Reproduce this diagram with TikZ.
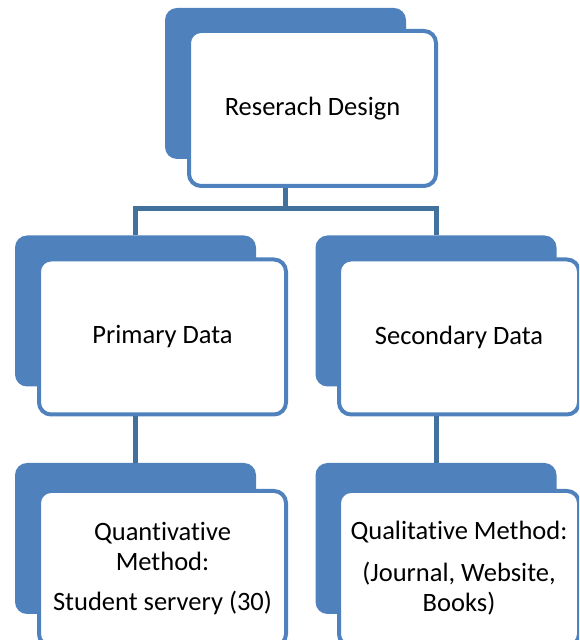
\documentclass[tikz,border=0pt]{standalone}
\usepackage{fontspec}
\setmainfont{Carlito}[Ligatures=NoCommon]
\usepackage{tikz}
\usepackage{xcolor}
\usetikzlibrary{positioning,calc}

\definecolor{officeblue}{HTML}{4F81BD}
\definecolor{linkblue}{HTML}{41719C}

\begin{document}
\begin{tikzpicture}[
    x=1pt, y=1pt,
    back/.style={rectangle, rounded corners=12pt, fill=officeblue, minimum width=241pt, minimum height=151pt},
    box/.style={rectangle, rounded corners=12pt, draw=officeblue, line width=4pt, fill=white, minimum width=247pt, minimum height=155pt, align=center, font=\fontsize{26.5}{30}\selectfont},
    link/.style={draw=linkblue, line width=5pt}
]
\useasboundingbox (0,0) rectangle (579,640);
\clip (0,0) rectangle (579,640);

% Research Design
\node[back] (designbg) at (285.5,556.5) {};
\node[box] (design) at (312.5,531.5) {Reserach Design};

% Primary / Secondary
\node[back] (primarybg) at (135.5,329) {};
\node[box] (primary) at (162.5,303) {Primary Data};
\node[back] (secondarybg) at (436,329) {};
\node[box, minimum width=240pt] (secondary) at (459,303) {Secondary Data};

% Methods
\node[back] (quantbg) at (135.5,101.5) {};
\node[box] (quant) at (162.5,71.5) {Quantivative\\ Method:\\[10pt] Student servery (30)};
\node[back] (qualbg) at (436,101.5) {};
\node[box, minimum width=240pt] (qual) at (459,71.5) {Qualitative Method:\\[12pt] (Journal, Website,\\ Books)};

% connectors
\draw[link] (designbg |- design.south) -- ++(0,-21) -| (primarybg.north);
\draw[link] (designbg |- design.south) -- ++(0,-21) -| (secondarybg.north);
\draw[link] (primarybg |- primary.south) -- (quantbg.north);
\draw[link] (secondarybg |- secondary.south) -- (qualbg.north);

\end{tikzpicture}
\end{document}
